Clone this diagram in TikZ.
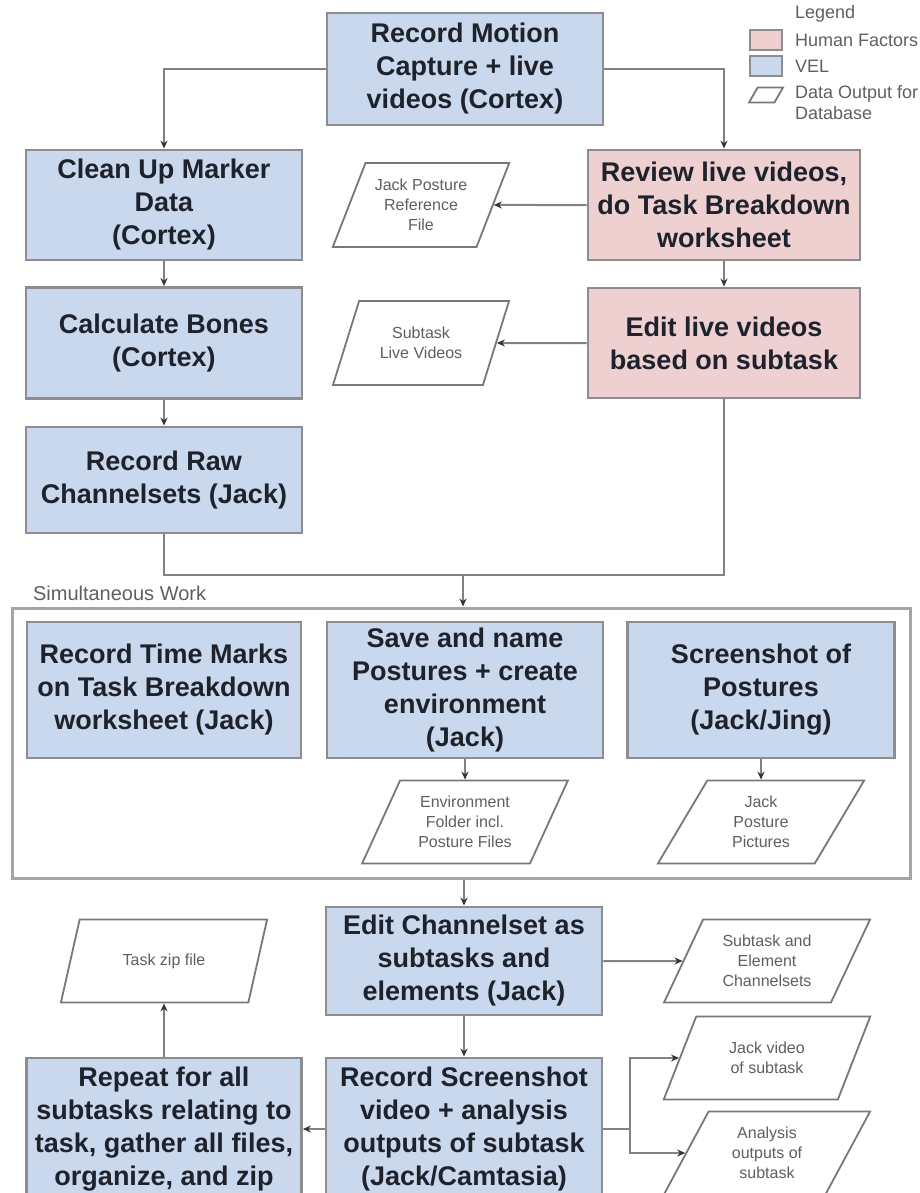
\documentclass[tikz,border=0pt]{standalone}
\usepackage{fontspec}
\setmainfont{Liberation Sans}
\usepackage{xcolor}
\usetikzlibrary{arrows.meta, shapes.geometric}
\definecolor{velfill}{RGB}{201,216,236}
\definecolor{hffill}{RGB}{238,208,208}
\definecolor{boxedge}{RGB}{140,140,145}
\definecolor{boxtext}{RGB}{30,34,44}
\definecolor{groupedge}{RGB}{165,165,165}
\definecolor{paraedge}{RGB}{120,120,120}
\definecolor{paratext}{RGB}{95,95,95}
\definecolor{connline}{RGB}{130,130,130}

\begin{document}
\begin{tikzpicture}[x=0.5pt, y=-0.5pt,
  box/.style={draw=boxedge, line width=1.4pt, align=center, text=boxtext,
    font=\fontsize{13.5}{16.5}\selectfont\bfseries, inner sep=2pt, minimum width=138pt},
  velbox/.style={box, fill=velfill},
  hfbox/.style={box, fill=hffill, minimum width=136pt},
  datapara/.style={trapezium, trapezium left angle=63, trapezium right angle=117,
    trapezium stretches=true, draw=paraedge, line width=0.9pt, fill=white, align=center,
    text=paratext, font=\fontsize{8}{10}\selectfont, inner sep=1pt,
    minimum width=103.5pt, minimum height=41.5pt},
  legendtext/.style={anchor=west, text=paratext, font=\fontsize{9}{10.5}\selectfont, align=left},
  wire/.style={draw=connline, line width=1pt},
  conn/.style={wire, -{Stealth[length=4pt, width=3.5pt, color=black!80]}}]

\useasboundingbox (0,0) rectangle (920,1193);

%% ── legend ───────────────────────────────────────────────────────
\node[legendtext] (legendtitle) at (788,14) {Legend};
\node[fill=hffill, draw=boxedge, line width=0.8pt, minimum width=16pt, minimum height=10pt, inner sep=0pt] (hfkey) at (766,40) {};
\node[legendtext] (hflabel) at (788,40) {Human Factors};
\node[fill=velfill, draw=boxedge, line width=0.8pt, minimum width=16pt, minimum height=10pt, inner sep=0pt] (velkey) at (766,66) {};
\node[legendtext] (vellabel) at (788,66) {VEL};
\node[datapara, minimum width=17pt, minimum height=7.5pt] (datakey) at (766,95) {};
\node[legendtext] (datalabel) at (788,103) {Data Output for\\Database};

%% ── capture and clean-up ─────────────────────────────────────────
\node[velbox, minimum height=56pt] (mocap) at (465,69) {Record Motion\\Capture + live\\videos (Cortex)};
\node[velbox, minimum height=55pt] (cleanup) at (164,205) {Clean Up Marker\\Data\\(Cortex)};
\node[velbox, minimum height=55.5pt] (bones) at (164,343) {Calculate Bones\\(Cortex)};
\node[velbox, minimum height=53pt] (raw) at (164,480) {Record Raw\\Channelsets (Jack)};

%% ── human factors column ─────────────────────────────────────────
\node[hfbox, minimum height=55pt] (review) at (724,205) {Review live videos,\\do Task Breakdown\\worksheet};
\node[hfbox, minimum height=55pt] (editvid) at (724,343) {Edit live videos\\based on subtask};
\node[datapara, minimum width=88.5pt, minimum height=42pt] (refpara) at (421,205) {Jack Posture\\Reference\\File};
\node[datapara, minimum width=88.5pt, minimum height=42pt] (livepara) at (421,343) {Subtask\\Live Videos};

%% ── simultaneous work ────────────────────────────────────────────
\node[legendtext, font=\fontsize{10}{12}\selectfont] (simlabel) at (26,593) {Simultaneous Work};
\node[draw=groupedge, line width=1.5pt, minimum width=449pt, minimum height=135pt] (simul) at (461,743) {};
\node[velbox, minimum width=137pt, minimum height=68pt] (marks) at (164,690) {Record Time Marks\\on Task Breakdown\\worksheet (Jack)};
\node[velbox, minimum height=68pt] (postures) at (465,690) {Save and name\\Postures + create\\environment\\(Jack)};
\node[velbox, minimum width=133.5pt, minimum height=68pt] (screenshot) at (761,690) {Screenshot of\\Postures\\(Jack/Jing)};
\node[datapara] (envpara) at (465,822) {Environment\\Folder incl.\\Posture Files};
\node[datapara] (picpara) at (761,822) {Jack\\Posture\\Pictures};

%% ── channelsets and outputs ──────────────────────────────────────
\node[velbox, minimum height=54pt] (editch) at (464,961) {Edit Channelset as\\subtasks and\\elements (Jack)};
\node[velbox, minimum height=71pt] (screenrec) at (464,1129) {Record Screenshot\\video + analysis\\outputs of subtask\\(Jack/Camtasia)};
\node[velbox, minimum width=137.5pt, minimum height=71pt] (zipall) at (164,1129) {Repeat for all\\subtasks relating to\\task, gather all files,\\organize, and zip};
\node[datapara] (zippara) at (164,961) {Task zip file};
\node[datapara] (chpara) at (767,961) {Subtask and\\Element\\Channelsets};
\node[datapara] (vidpara) at (767,1058) {Jack video\\of subtask};
\node[datapara] (anapara) at (767,1153) {Analysis\\outputs of\\subtask};

%% ── connectors ───────────────────────────────────────────────────
\draw[conn] (mocap.west) -| (cleanup.north);
\draw[conn] (mocap.east) -| (review.north);
\draw[conn] (cleanup) -- (bones);
\draw[conn] (bones) -- (raw);
\draw[conn] (review) -- (editvid);
\draw[conn] (review) -- (refpara);
\draw[conn] (editvid) -- (livepara);

\coordinate (merge) at (463,575);
\draw[wire] (raw.south) |- (merge);
\draw[wire] (editvid.south) |- (merge);
\draw[conn] (merge) -- (merge |- simul.north);

\draw[conn] (postures) -- (envpara);
\draw[conn] (screenshot) -- (picpara);
\draw[conn] (editch.north |- simul.south) -- (editch.north);
\draw[conn] (editch) -- (chpara);
\draw[conn] (editch) -- (screenrec);
\draw[conn] (screenrec) -- (zipall);
\draw[conn] (zipall) -- (zippara);

\coordinate (branch) at (630,1129);
\draw[wire] (screenrec.east) -- (branch);
\draw[conn] (branch) |- (vidpara);
\draw[conn] (branch) |- (anapara);

\end{tikzpicture}
\end{document}
